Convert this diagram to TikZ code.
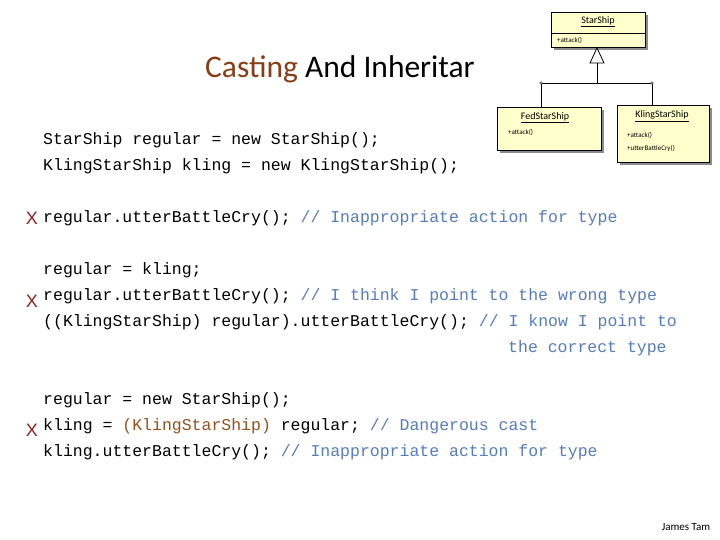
\documentclass[tikz,border=0pt]{standalone}
\usepackage{fontspec}
\setmainfont{Carlito}
\setmonofont{Liberation Mono}
\newfontfamily\xfont{Liberation Sans}
\definecolor{cmt}{RGB}{84,124,190}
\definecolor{cast}{RGB}{150,80,25}
\definecolor{xred}{RGB}{150,30,30}
\definecolor{ttl}{RGB}{140,60,20}
\definecolor{uml}{RGB}{255,255,204}
\begin{document}
\begin{tikzpicture}[x=1pt,y=-1pt,
  code/.style={anchor=west,inner sep=0pt,font=\fontsize{16.5}{18}\ttfamily},
  xm/.style={inner sep=0pt,text=xred,font=\fontsize{18}{20}\xfont},
  cls/.style={draw,fill=uml,line width=0.6pt},
  small/.style={inner sep=0pt,font=\fontsize{7}{8}\selectfont,anchor=west}]
\useasboundingbox (0,0) rectangle (720,540);
% title
\node[anchor=base west,inner sep=0pt,font=\fontsize{31.5}{34}\selectfont] (title) at (205,78) {\textcolor{ttl}{Casting} And Inheritar};
% UML
\fill[black!45] (554,15) rectangle (648,50);
\draw[cls] (551,12) rectangle (645,47);
\draw (551,33) -- (645,33);
\node[inner sep=0pt,font=\fontsize{10}{11}\selectfont] (ss) at (598,22) {\underline{StarShip}};
\node[small] (ssa) at (557,40) {+attack()};
\draw[line width=0.8pt] (597,63) -- (597,83);
\draw[fill=white,line width=0.8pt] (597,48) -- (604,63) -- (590,63) -- cycle;
\draw[line width=0.8pt] (541,83) -- (652,83);
\draw[line width=0.8pt] (541,83) -- (541,107);
\draw[line width=0.8pt] (652,83) -- (652,105);
\draw[fill=white,line width=0.4pt] (541,83) circle (1.3);
\draw[fill=white,line width=0.4pt] (652,83) circle (1.3);
\fill[black!45] (500,110) rectangle (604,153);
\draw[cls] (497,107) rectangle (601,150);
\node[inner sep=0pt,font=\fontsize{10}{11}\selectfont] (fs) at (545,118) {\underline{FedStarShip}};
\node[small] (fsa) at (508,132) {+attack()};
\fill[black!45] (620,108) rectangle (712,165);
\draw[cls] (617,105) rectangle (709,162);
\node[inner sep=0pt,font=\fontsize{10}{11}\selectfont] (ks) at (662,116) {\underline{KlingStarShip}};
\node[small] (ksa) at (627,135) {+attack()};
\node[small] (ksb) at (627,149) {+utterBattleCry()};
% code
\node[code] (l1) at (43,140) {StarShip regular = new StarShip();};
\node[code] (l2) at (43,166) {KlingStarShip kling = new KlingStarShip();};
\node[xm] (x1) at (32,218) {X};
\node[code] (l3) at (43,218) {regular.utterBattleCry(); \textcolor{cmt}{// Inappropriate action for type}};
\node[code] (l4) at (43,270) {regular = kling;};
\node[xm] (x2) at (32,301) {X};
\node[code] (l5) at (43,296) {regular.utterBattleCry(); \textcolor{cmt}{// I think I point to the wrong type}};
\node[code] (l6) at (43,322) {((KlingStarShip) regular).utterBattleCry(); \textcolor{cmt}{// I know I point to}};
\node[code] (l7) at (508,348) {\textcolor{cmt}{the correct type}};
\node[code] (l8) at (43,400) {regular = new StarShip();};
\node[xm] (x3) at (32,430) {X};
\node[code] (l9) at (43,426) {kling = \textcolor{cast}{(KlingStarShip)} regular; \textcolor{cmt}{// Dangerous cast}};
\node[code] (l10) at (43,452) {kling.utterBattleCry(); \textcolor{cmt}{// Inappropriate action for type}};
\node[inner sep=0pt,font=\fontsize{11}{12}\selectfont] (jt) at (686,527) {James Tam};
\end{tikzpicture}
\end{document}
